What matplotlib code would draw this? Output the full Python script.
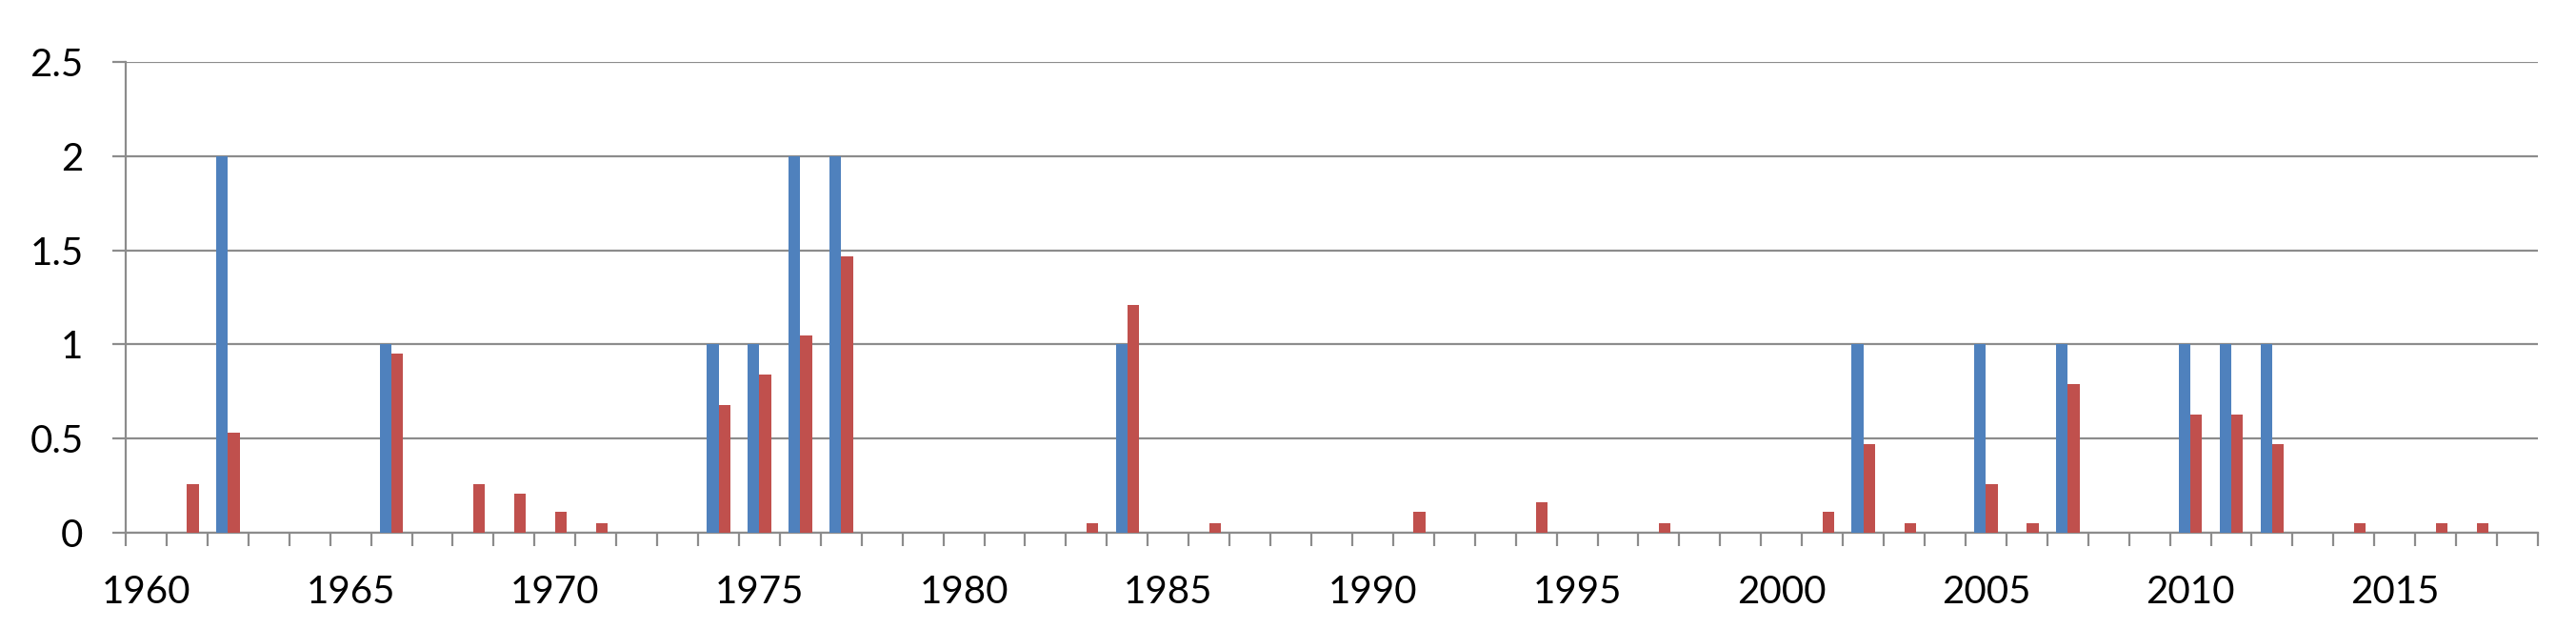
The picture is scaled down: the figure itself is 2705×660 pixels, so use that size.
import numpy as np
import matplotlib
matplotlib.use('Agg')
import matplotlib.pyplot as plt

# years on the category axis
years = list(range(1960, 2019))

# blue series (non-zero years)
blue_years = [1962, 1966, 1974, 1975, 1976, 1977, 1984, 2002, 2005, 2007, 2010, 2011, 2012]
blue_vals = [2, 1, 1, 1, 2, 2, 1, 1, 1, 1, 1, 1, 1]

# red series (non-zero years)
red_years = [1961, 1962, 1966, 1968, 1969, 1970, 1971, 1974, 1975, 1976, 1977,
             1983, 1984, 1986, 1991, 1994, 1997, 2001, 2002, 2003, 2005, 2006,
             2007, 2010, 2011, 2012, 2014, 2016, 2017]
red_vals = [0.26, 0.53, 0.95, 0.26, 0.21, 0.11, 0.05, 0.68, 0.84, 1.05, 1.47,
            0.05, 1.21, 0.05, 0.11, 0.16, 0.05, 0.11, 0.47, 0.05, 0.26, 0.05,
            0.79, 0.63, 0.63, 0.47, 0.05, 0.05, 0.05]

label_years = [1960, 1965, 1970, 1975, 1980, 1985, 1990, 1995, 2000, 2005, 2010, 2015]
y_ticks = [0, 0.5, 1, 1.5, 2, 2.5]
y_labels = ['0', '0.5', '1', '1.5', '2', '2.5']

blue = np.zeros(len(years))
red = np.zeros(len(years))
for y, v in zip(blue_years, blue_vals):
    blue[years.index(y)] = v
for y, v in zip(red_years, red_vals):
    red[years.index(y)] = v

plt.rcParams['font.family'] = ['Lato', 'DejaVu Sans']

gray = '#8c8c8c'

fig = plt.figure(figsize=(27.05, 6.6), dpi=100)
ax = fig.add_axes([0.0488, 0.153, 0.9364, 0.7485])

x = np.arange(len(years))
w = 1 / 3.5
ax.bar(x - w / 2, blue, width=w, color='#4F81BD', zorder=3)
ax.bar(x + w / 2, red, width=w, color='#C0504D', zorder=3)

ax.set_xlim(-0.5, len(years) - 0.5)
ax.set_ylim(0, 2.5)

# tick marks between categories, labels every 5 years
ax.set_xticks(np.arange(len(years) + 1) - 0.5)
ax.set_xticklabels([])
ax.set_xticks([years.index(y) for y in label_years], minor=True)
ax.set_xticklabels([str(y) for y in label_years], minor=True)
ax.tick_params(axis='x', which='major', length=10, width=1.6, color=gray, direction='out')
ax.tick_params(axis='x', which='minor', length=0, pad=32, labelsize=29)

ax.set_yticks(y_ticks)
ax.set_yticklabels(y_labels)
ax.tick_params(axis='y', length=10, width=1.6, color=gray, pad=22, labelsize=29)

ax.yaxis.grid(True, color=gray, linewidth=1.6)
ax.set_axisbelow(True)

for s in ['top', 'right']:
    ax.spines[s].set_visible(False)
for s in ['left', 'bottom']:
    ax.spines[s].set_color(gray)
    ax.spines[s].set_linewidth(1.6)

plt.savefig('out.png', dpi=100)
